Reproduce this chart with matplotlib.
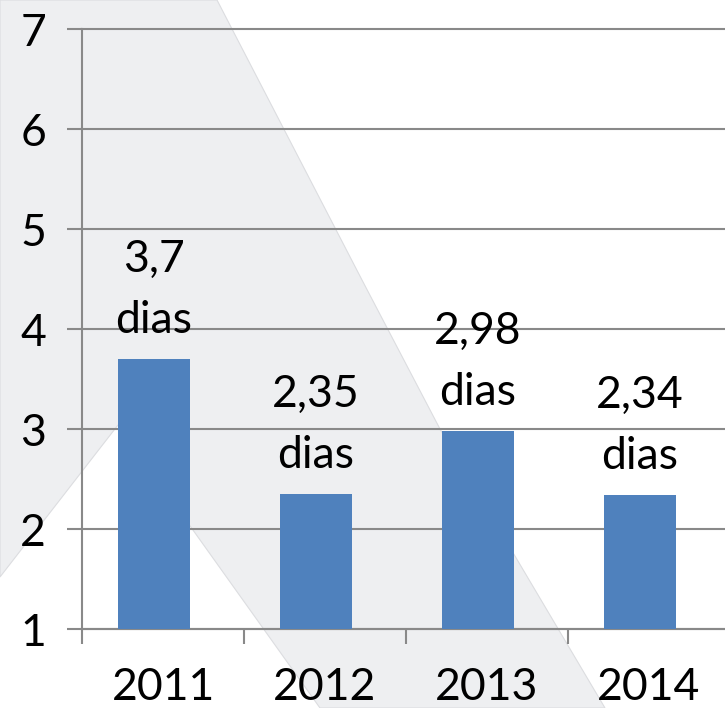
import numpy as np
import matplotlib.pyplot as plt
from matplotlib.patches import Polygon

# data
years = ["2011", "2012", "2013", "2014"]
days = [3.7, 2.35, 2.98, 2.34]
day_labels = ["3,7", "2,35", "2,98", "2,34"]

W, H = 725, 708
BAR_COLOR = "#4F81BD"
GRID_COLOR = "#898989"
BAND_COLOR = "#EEEFF1"
EDGE_COLOR = "#DCDDE0"
FS = 32

plt.rcParams["font.family"] = ["Lato", "DejaVu Sans"]

fig = plt.figure(figsize=(W / 100, H / 100), dpi=100)
fig.patch.set_facecolor("white")

# light grey slide decoration behind the chart (pixel coords, origin top-left)
band_px = [(0, 0), (217, 0), (362, 280), (440, 429), (512, 551), (605, 708),
           (320, 708), (118, 425), (0, 577)]
band = Polygon([(x / W, 1 - y / H) for x, y in band_px], closed=True,
               transform=fig.transFigure, facecolor=BAND_COLOR,
               edgecolor=EDGE_COLOR, linewidth=0.8, zorder=0)
fig.patches.append(band)

ax = fig.add_axes([82 / W, (H - 629) / H, 648 / W, 600 / H])
ax.set_zorder(2)
ax.set_facecolor("none")

x = np.arange(len(years))
bar_shift = -0.056
ax.bar(x + bar_shift, days, width=0.44, color=BAR_COLOR, zorder=3)

for xi, v, lab in zip(x, days, day_labels):
    ax.annotate(f"{lab}\ndias", xy=(xi + bar_shift, v), xytext=(0, 13),
                textcoords="offset points", ha="center", va="bottom",
                fontsize=FS, linespacing=1.6, zorder=4)

ax.set_xlim(-0.5, 3.5)
ax.set_ylim(1, 7)
ax.set_yticks(range(1, 8))
ax.yaxis.grid(True, color=GRID_COLOR, linewidth=1.5, clip_on=False)
ax.set_axisbelow(True)

for s in ["top", "right"]:
    ax.spines[s].set_visible(False)
for s in ["left", "bottom"]:
    ax.spines[s].set_color(GRID_COLOR)
    ax.spines[s].set_linewidth(1.5)

ax.set_xticks(x)
ax.set_xticklabels(years)
ax.set_xticks(np.arange(-0.5, len(years), 1), minor=True)
ax.tick_params(axis="y", length=10.8, width=1.5, color=GRID_COLOR, pad=15,
               labelsize=FS)
ax.tick_params(axis="x", which="major", length=0, pad=27, labelsize=FS)
ax.tick_params(axis="x", which="minor", length=10.8, width=1.5,
               color=GRID_COLOR)

fig.savefig("out.png", dpi=100)
